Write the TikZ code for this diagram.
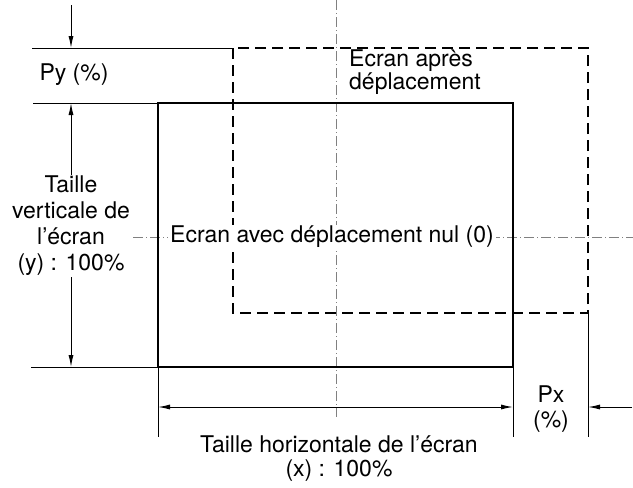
\documentclass[tikz,border=0pt]{standalone}
\usepackage{fontspec}
\setmainfont{TeX Gyre Heros}
\usetikzlibrary{arrows.meta, positioning}

\begin{document}
\begin{tikzpicture}[x=1pt, y=-1pt,
  frame/.style   = {line width=2pt},
  shifted/.style = {line width=2pt, dash pattern=on 11pt off 6pt},
  guide/.style   = {line width=1pt},
  dim/.style     = {line width=1pt, -{Latex[length=12pt, width=5pt]}},
  axis/.style    = {gray, line width=0.7pt,
                    dash pattern=on 10pt off 3pt on 1pt off 3pt},
  lbl/.style     = {font=\fontsize{23}{26}\selectfont, align=center,
                    inner sep=1pt}
]
\useasboundingbox (0,0) rectangle (633,488);

% corners of both screens
\coordinate (s-nw) at (158,103);
\coordinate (s-se) at (513,367);
\coordinate (m-nw) at (233,48);
\coordinate (m-se) at (588,313);

% centre lines
\coordinate (ax-top) at (336,0);
\coordinate (ax-bot) at (336,417);
\coordinate (ah-l)   at (133,237);
\coordinate (ah-r)   at (633,237);
\draw[axis] (ax-top) -- (ax-bot);
\draw[axis] (ah-l) -- (ah-r);

% extension lines
\coordinate (g1) at (32,48);
\coordinate (g2) at (33,103);
\coordinate (g3) at (31,367);
\coordinate (g4) at (158,437);
\coordinate (g5) at (513,437);
\coordinate (g6) at (588,437);
\draw[guide] (g1) -- (m-nw);
\draw[guide] (g2) -- (s-nw);
\draw[guide] (g3) -- (s-nw |- s-se);
\draw[guide] (s-nw |- s-se) -- (g4);
\draw[guide] (s-se) -- (g5);
\draw[guide] (m-se) -- (g6);

% screens
\draw[frame]   (s-nw) rectangle (s-se);
\draw[shifted] (m-nw) rectangle (m-se);

% labels
\node[lbl] (py)    at (74,75)   {Py (\%)};
\node[lbl] (vsize) at (71,226)  {Taille\\verticale de\\l’écran\\(y) : 100\%};
\node[lbl, align=left, anchor=north west,
      font=\fontsize{23}{23}\selectfont] (after) at (348,49)
      {Ecran après\\déplacement};
\node[lbl, fill=white, inner xsep=2pt] (zero) at (332,237)
      {Ecran avec déplacement nul (0)};
\node[lbl, font=\fontsize{23}{24}\selectfont] (hsize) at (339,459)
      {Taille horizontale de l’écran\\(x) : 100\%};
\node[lbl, font=\fontsize{23}{25}\selectfont] (px) at (551,409)
      {Px\\(\%)};

% dimension arrows
\coordinate (top)  at (71,5);
\coordinate (hl)   at (158,407);
\coordinate (hr)   at (513,407);
\coordinate (pxr)  at (632,407);
\draw[dim] (top) -- (top |- m-nw);
\draw[dim] (vsize.north) -- (vsize.north |- s-nw);
\draw[dim] (vsize.south) -- (vsize.south |- s-se);
\draw[dim, {Latex[length=12pt, width=5pt]}-{Latex[length=12pt, width=5pt]}]
  (hl) -- (hr);
\draw[dim] (pxr) -- (pxr -| m-se);
\end{tikzpicture}
\end{document}
